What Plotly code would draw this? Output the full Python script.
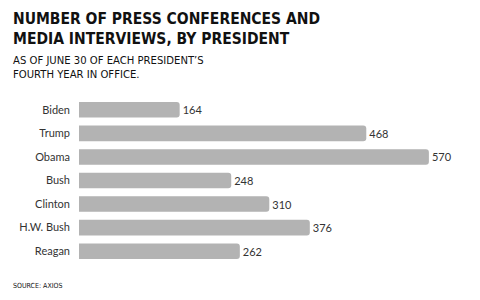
import plotly.graph_objects as go

presidents = ["Biden", "Trump", "Obama", "Bush", "Clinton", "H.W. Bush", "Reagan"]
counts = [164, 468, 570, 248, 310, 376, 262]

title_lines = ["NUMBER OF PRESS CONFERENCES AND", "MEDIA INTERVIEWS, BY PRESIDENT"]
subtitle_lines = ["AS OF JUNE 30 OF EACH PRESIDENT\u2019S", "FOURTH YEAR IN OFFICE."]
source_text = "SOURCE: AXIOS"

W, H = 480, 300
L, R, T, B = 79, 2, 98, 37
pw, ph = W - L - R, H - T - B

def px(x):
    return (x - L) / pw

def py(y):
    return (H - B - y) / ph

title_font = "Liberation Sans Narrow, DejaVu Sans Condensed, DejaVu Sans"
label_font = "Lato, Open Sans, sans-serif"

fig = go.Figure(go.Bar(
    x=counts, y=presidents, orientation="h",
    marker=dict(color="#b3b3b3", cornerradius=3, line=dict(width=0)),
    width=0.66,
    text=[str(c) for c in counts], textposition="outside",
    textfont=dict(family=label_font, size=11, color="#333333"),
    cliponaxis=False,
    hoverinfo="skip",
))

annotations = []
for i, t in enumerate(title_lines):
    annotations.append(dict(text="<b>" + t + "</b>", x=px(11), y=py(19 + 20 * i), xref="paper", yref="paper",
                            xanchor="left", yanchor="middle", showarrow=False,
                            font=dict(family=title_font, size=15.5, color="#111111")))
for i, t in enumerate(subtitle_lines):
    annotations.append(dict(text=t, x=px(11), y=py(60 + 14 * i), xref="paper", yref="paper",
                            xanchor="left", yanchor="middle", showarrow=False,
                            font=dict(family=title_font, size=11.2, color="#111111")))
annotations.append(dict(text=source_text, x=px(11), y=py(286), xref="paper", yref="paper",
                        xanchor="left", yanchor="middle", showarrow=False,
                        font=dict(family=title_font, size=7, color="#111111")))

fig.update_layout(
    width=W, height=H,
    margin=dict(l=L, r=R, t=T, b=B, pad=0),
    paper_bgcolor="white", plot_bgcolor="white",
    showlegend=False,
    annotations=annotations,
    xaxis=dict(range=[0, 650], visible=False, fixedrange=True),
    yaxis=dict(categoryorder="array", categoryarray=presidents, autorange="reversed",
               showgrid=False, zeroline=False, showline=False, ticks="",
               ticklabelstandoff=8,
               tickfont=dict(family=label_font, size=11, color="#333333")),
)

fig.write_html("out.html")
